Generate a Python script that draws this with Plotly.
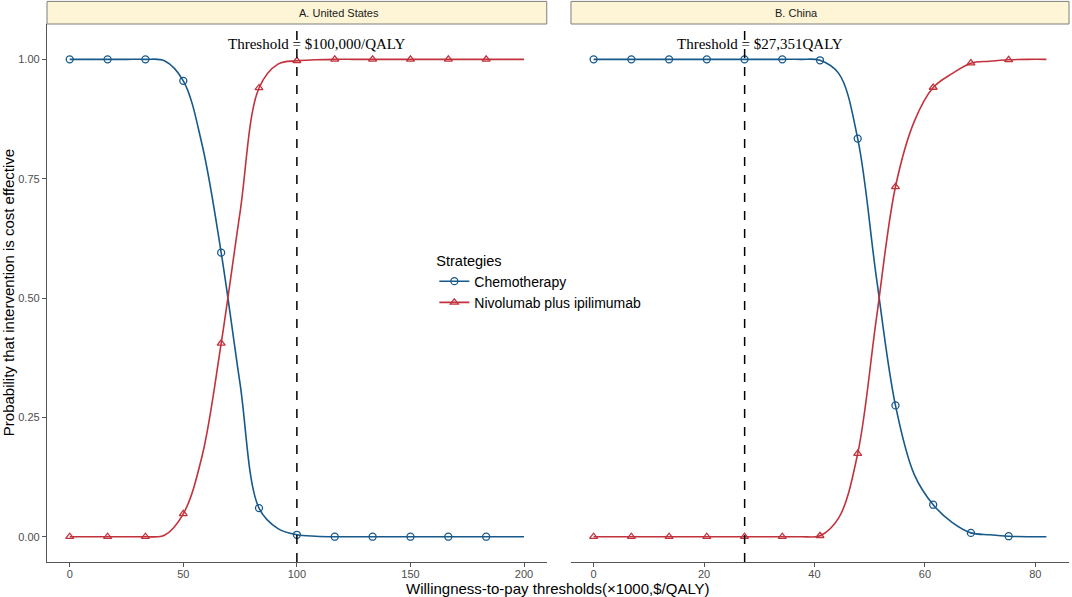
import plotly.graph_objects as go

# willingness-to-pay grid (x1000 $/QALY)
us_wtp = [0, 8.33, 16.67, 25, 33.33, 41.67, 50, 58.33, 66.67, 75, 83.33, 91.67, 100,
          108.33, 116.67, 125, 133.33, 141.67, 150, 158.33, 166.67, 175, 183.33, 191.67, 200]
cn_wtp = [0, 3.42, 6.83, 10.25, 13.67, 17.08, 20.5, 23.92, 27.33, 30.75, 34.17, 37.58, 41,
          44.42, 47.83, 51.25, 54.67, 58.08, 61.5, 64.92, 68.33, 71.75, 75.17, 78.58, 82]

# probability cost-effective
us_chemo = [1, 1, 1, 1, 1, 0.997, 0.955, 0.82, 0.595, 0.32, 0.06, 0.017, 0.004,
            0.001, 0, 0, 0, 0, 0, 0, 0, 0, 0, 0, 0]
us_nivo = [0, 0, 0, 0, 0, 0.003, 0.048, 0.17, 0.405, 0.68, 0.94, 0.99, 0.997,
           0.999, 1, 1, 1, 1, 1, 1, 1, 1, 1, 1, 1]
cn_chemo = [1, 1, 1, 1, 1, 1, 1, 1, 1, 1, 1, 1, 0.998,
            0.97, 0.834, 0.54, 0.275, 0.13, 0.067, 0.03, 0.008, 0.004, 0.001, 0, 0]
cn_nivo = [0, 0, 0, 0, 0, 0, 0, 0, 0, 0, 0, 0, 0.002,
           0.04, 0.174, 0.46, 0.733, 0.87, 0.941, 0.97, 0.992, 0.996, 0.999, 1, 1]

strategies = ["Chemotherapy", "Nivolumab plus ipilimumab"]
panels = ["A. United States", "B. China"]
thresholds = [100, 27.351]
threshold_labels = ["Threshold = $100,000/QALY", "Threshold = $27,351QALY"]

BLUE = "#17598A"
RED = "#C2323D"
colors = [BLUE, RED]
symbols = ["circle-open", "triangle-up-open"]

fig = go.Figure()

panel_data = [(us_wtp, [us_chemo, us_nivo], "x", "y"),
              (cn_wtp, [cn_chemo, cn_nivo], "x2", "y2")]

for wtp, series, xa, ya in panel_data:
    for i, vals in enumerate(series):
        fig.add_trace(go.Scatter(x=wtp, y=vals, mode="lines", xaxis=xa, yaxis=ya,
                                 line=dict(color=colors[i], width=1.6, shape="spline"),
                                 showlegend=False, hoverinfo="skip"))
        # markers on every second grid point
        fig.add_trace(go.Scatter(x=wtp[0:24:2], y=vals[0:24:2], mode="markers", xaxis=xa, yaxis=ya,
                                 marker=dict(symbol=symbols[i], color=colors[i], size=7,
                                             line=dict(width=1.3, color=colors[i])),
                                 showlegend=False))

# legend entries
for i, name in enumerate(strategies):
    fig.add_trace(go.Scatter(x=[None], y=[None], mode="lines+markers", name=name,
                             line=dict(color=colors[i], width=1.6),
                             marker=dict(symbol=symbols[i], color=colors[i], size=7,
                                         line=dict(width=1.3, color=colors[i]))))

dom1 = [0, 0.489]
dom2 = [0.5127, 1]
ax_common = dict(showgrid=False, zeroline=False, showline=True, linecolor="#555555", linewidth=1.3,
                 ticks="outside", ticklen=4, tickcolor="#555555", tickwidth=1.1,
                 tickfont=dict(family="Liberation Sans, Arial", size=11, color="#4D4D4D"))

fig.update_layout(
    width=1072, height=597,
    margin=dict(l=47, r=3, t=24, b=35),
    paper_bgcolor="white", plot_bgcolor="white",
    xaxis=dict(domain=dom1, range=[-10, 210], tickvals=[0, 50, 100, 150, 200], anchor="y",
               ticklabelstandoff=-2, **ax_common),
    xaxis2=dict(domain=dom2, range=[-4.1, 86.1], tickvals=[0, 20, 40, 60, 80], anchor="y2",
                ticklabelstandoff=-2, **ax_common),
    yaxis=dict(range=[-0.053, 1.074], tickvals=[0, 0.25, 0.5, 0.75, 1],
               ticktext=["0.00", "0.25", "0.50", "0.75", "1.00"], anchor="x", **ax_common),
    yaxis2=dict(range=[-0.053, 1.074], anchor="x2", showgrid=False, zeroline=False,
                showline=False, showticklabels=False, ticks=""),
    legend=dict(x=0.379, y=0.586, xanchor="left", yanchor="top", bgcolor="rgba(0,0,0,0)",
                title=dict(text="Strategies", font=dict(size=14.5, color="black")),
                font=dict(family="Liberation Sans, Arial", size=14, color="black"),
                itemwidth=30, tracegroupgap=2),
    font=dict(family="Liberation Sans, Arial", color="black"),
)

# strip headers and threshold lines
for k, (dom, xr, yr) in enumerate([(dom1, "x", "y"), (dom2, "x2", "y2")]):
    fig.add_shape(type="rect", xref="paper", yref="paper", x0=dom[0], x1=dom[1], y0=1.0, y1=1.042,
                  fillcolor="#FDF5D6", line=dict(color="#7F7F7F", width=1))
    fig.add_annotation(xref="paper", yref="paper", x=(dom[0] + dom[1]) / 2, y=1.021,
                       text=panels[k], showarrow=False, yanchor="middle",
                       font=dict(family="Liberation Sans, Arial", size=11, color="#1A1A1A"))
    fig.add_shape(type="line", xref=xr, yref="paper", x0=thresholds[k], x1=thresholds[k], y0=0, y1=1,
                  line=dict(color="black", width=1.5, dash="dash"))

fig.add_annotation(xref="x", yref="y", x=109, y=1.032, text=threshold_labels[0], showarrow=False,
                   font=dict(family="Liberation Serif, Times New Roman", size=15, color="black"))
fig.add_annotation(xref="x2", yref="y2", x=30.2, y=1.032, text=threshold_labels[1], showarrow=False,
                   font=dict(family="Liberation Serif, Times New Roman", size=15, color="black"))

# axis titles
fig.add_annotation(xref="paper", yref="paper", x=0.5, y=-0.049, yanchor="middle",
                   text="Willingness-to-pay thresholds(×1000,$/QALY)", showarrow=False,
                   font=dict(size=15, color="black"))
fig.add_annotation(xref="paper", yref="paper", x=-0.038, y=0.5, textangle=-90, xanchor="center",
                   text="Probability that intervention is cost effective", showarrow=False,
                   font=dict(size=15, color="black"))

# drop the default page margin so the figure fills the window
fig.write_html("out.html", config={"displayModeBar": False},
               post_script="document.body.style.margin='0px';")
